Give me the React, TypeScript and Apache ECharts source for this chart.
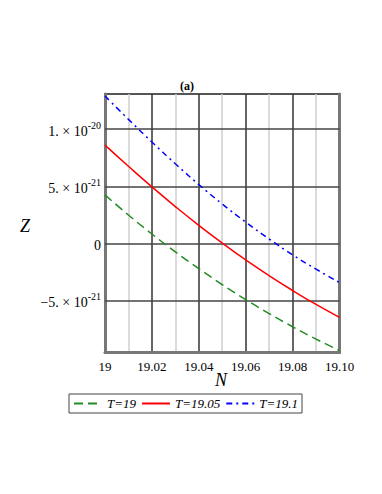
import React, { useEffect, useRef } from "react";
import * as echarts from "echarts";

// Z values in units of 10^-21
const nValues = [19, 19.01, 19.02, 19.03, 19.04, 19.05, 19.06, 19.07, 19.08, 19.09, 19.1];
const zT19 = [4.25, 2.49, 0.83, -0.73, -2.2, -3.59, -4.9, -6.13, -7.28, -8.36, -9.36];
const zT1905 = [8.6, 6.75, 4.95, 3.23, 1.59, 0.04, -1.43, -2.81, -4.11, -5.33, -6.46];
const zT191 = [12.9, 10.85, 8.87, 6.97, 5.15, 3.45, 1.87, 0.39, -0.99, -2.24, -3.42];
const seriesNames = ["T=19", "T=19.05", "T=19.1"];
const yTicks = [-5, 0, 5, 10];
const yTickLabels = ["{m|\u22125. \u00d7 10}{s|-21}", "{m|0}", "{m|5. \u00d7 10}{s|-21}", "{m|1. \u00d7 10}{s|-20}"];

const FONT = "'Liberation Serif', serif";

export default function App() {
  const ref = useRef<HTMLDivElement>(null);
  useEffect(() => {
    if (!ref.current) return;
    const chart = echarts.init(ref.current, null, { renderer: "svg" });
    const mk = (arr: number[]) => nValues.map((n, i) => [n, arr[i]]);
    chart.setOption({
      animation: false,
      backgroundColor: "#fff",
      textStyle: { fontFamily: FONT },
      grid: {
        left: 105,
        right: 42.5,
        top: 94,
        bottom: 141.5,
        show: true,
        borderColor: "#555",
        borderWidth: 2,
      },
      xAxis: {
        type: "value",
        min: 19,
        max: 19.1,
        interval: 0.02,
        axisLine: { show: true, onZero: false, lineStyle: { color: "#777", width: 3 } },
        axisTick: { show: false },
        axisLabel: {
          color: "#000",
          fontFamily: FONT,
          fontSize: 13,
          margin: 7,
          formatter: (v: number) => (Math.abs(v - 19) < 1e-9 ? "19" : v.toFixed(2)),
        },
        splitLine: { show: true, lineStyle: { color: "#333", width: 1.5 } },
        minorTick: { show: false, splitNumber: 2 },
        minorSplitLine: { show: true, lineStyle: { color: "#cfcfcf", width: 1.5 } },
      },
      yAxis: [
        {
          type: "value",
          min: -9.53,
          max: 13.07,
          axisLine: { show: true, lineStyle: { color: "#777", width: 3 } },
          axisTick: { show: false },
          splitLine: { show: false },
          axisLabel: {
            show: true,
            customValues: yTicks,
            margin: 4,
            color: "#000",
            fontFamily: FONT,
            formatter: (v: number) => {
              let idx = 0;
              let best = Infinity;
              yTicks.forEach((t, i) => {
                const d = Math.abs(t - v);
                if (d < best) { best = d; idx = i; }
              });
              return yTickLabels[idx];
            },
            rich: {
              m: { fontFamily: FONT, fontSize: 14, color: "#000", verticalAlign: "bottom", lineHeight: 18 },
              s: { fontFamily: FONT, fontSize: 10, color: "#000", verticalAlign: "top", lineHeight: 18 },
            },
          },
        },
        {
          type: "value",
          position: "right",
          min: -9.53,
          max: 13.07,
          axisLine: { show: true, lineStyle: { color: "#777", width: 3 } },
          axisTick: { show: false },
          axisLabel: { show: false },
          splitLine: { show: false },
        },
      ],
      legend: {
        left: 69,
        top: 394,
        orient: "horizontal",
        itemWidth: 28,
        itemHeight: 10,
        itemGap: 5,
        padding: [3, 4, 3, 4],
        borderColor: "#444",
        borderWidth: 1,
        itemStyle: { opacity: 0 },
        textStyle: { fontFamily: FONT, fontStyle: "italic", fontSize: 13, color: "#000" },
        data: seriesNames,
      },
      graphic: [
        { type: "text", left: 180, top: 80, style: { text: "(a)", font: `bold 12px ${FONT}`, fill: "#000" } },
        { type: "text", left: 20, top: 217, style: { text: "Z", font: `italic 18px ${FONT}`, fill: "#000" } },
        { type: "text", left: 215, top: 371, style: { text: "N", font: `italic 18px ${FONT}`, fill: "#000" } },
      ],
      series: [
        {
          name: seriesNames[0],
          type: "line",
          data: mk(zT19),
          smooth: true,
          symbol: "none",
          lineStyle: { color: "#228b22", width: 1.5, type: [9, 5] },
          itemStyle: { color: "#228b22" },
          markLine: {
            silent: true,
            symbol: "none",
            label: { show: false },
            lineStyle: { color: "#444", width: 1.5, type: "solid" },
            data: yTicks.map((v) => ({ yAxis: v })),
            z: 1,
          },
          z: 3,
        },
        {
          name: seriesNames[1],
          type: "line",
          data: mk(zT1905),
          smooth: true,
          symbol: "none",
          lineStyle: { color: "#ff0000", width: 1.5, type: "solid" },
          itemStyle: { color: "#ff0000" },
          z: 3,
        },
        {
          name: seriesNames[2],
          type: "line",
          data: mk(zT191),
          smooth: true,
          symbol: "none",
          lineStyle: { color: "#0000ff", width: 1.5, type: [6, 4, 2, 4] },
          itemStyle: { color: "#0000ff" },
          z: 3,
        },
      ],
    });
    return () => chart.dispose();
  }, []);
  return (
    <div
      ref={ref}
      style={{ position: "fixed", left: 0, top: 0, width: 382, height: 494, background: "#fff" }}
    />
  );
}
